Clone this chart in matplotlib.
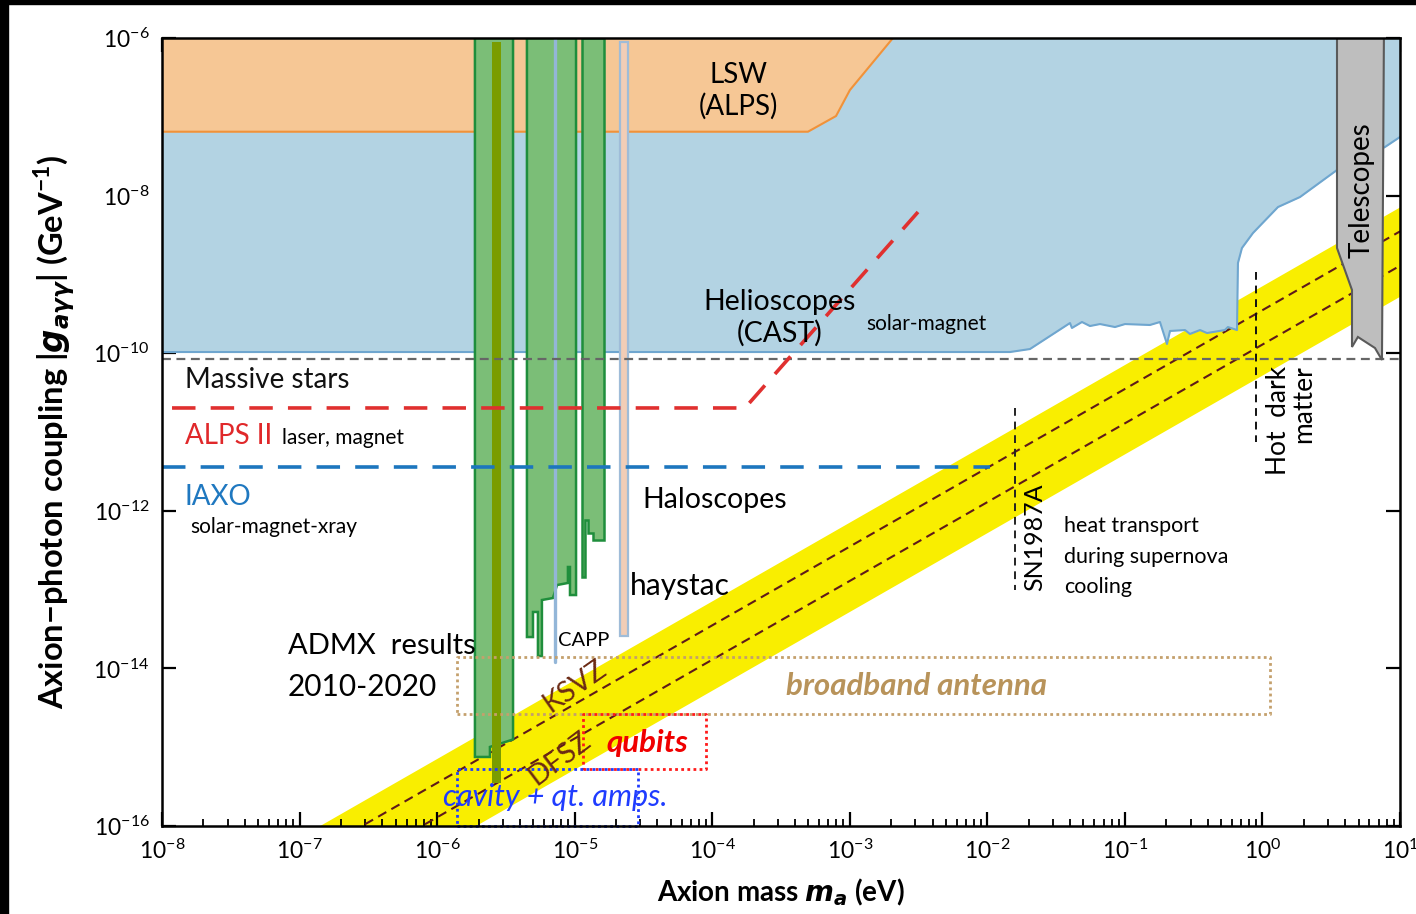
import numpy as np
import matplotlib.pyplot as plt
from matplotlib.patches import Rectangle
from matplotlib.ticker import LogLocator, NullLocator

plt.rcParams['font.family'] = ['Lato', 'DejaVu Sans']
plt.rcParams['mathtext.fontset'] = 'custom'
plt.rcParams['mathtext.rm'] = 'Lato:bold'
plt.rcParams['mathtext.it'] = 'DejaVu Sans:bold:italic'
plt.rcParams['mathtext.bf'] = 'Lato:bold'

# --- data (log10 of mass in eV, log10 of coupling in GeV^-1) ---
# helioscopes (CAST) excluded region, lower edge
helio_logm = [-8.0, -1.835, -1.690, -1.399, -1.385, -1.312, -1.254, -1.181, -1.072,
              -0.999, -0.818, -0.745, -0.694, -0.672, -0.563, -0.527, -0.454, -0.403,
              -0.273, -0.251, -0.185, -0.178, -0.149, -0.069, 0.113, 0.273, 0.542,
              0.891, 1.0]
helio_logg = [-9.985, -9.985, -9.947, -9.617, -9.680, -9.604, -9.655, -9.630, -9.668,
              -9.630, -9.642, -9.604, -9.883, -9.718, -9.706, -9.756, -9.706, -9.744,
              -9.706, -9.668, -9.706, -8.855, -8.665, -8.475, -8.145, -8.018, -7.675,
              -7.383, -7.256]

# light shining through wall (ALPS) lower edge
lsw_logm = [-8.0, -3.304, -3.100, -2.999, -2.686]
lsw_logg = [-7.189, -7.189, -6.990, -6.660, -6.0]

# telescopes outline
tele_logm = [0.542, 0.542, 0.651, 0.651, 0.694, 0.818, 0.869, 0.883]
tele_logg = [-6.0, -8.665, -9.198, -9.921, -9.794, -9.934, -10.086, -6.0]

# ADMX / haloscope exclusions
admx_a_logm = [-5.725, -5.725, -5.616, -5.616, -5.460, -5.448, -5.448]
admx_a_logg = [-6.0, -15.124, -15.124, -14.997, -14.909, -14.900, -6.0]
admx_b_logm = [-5.347, -5.347, -5.303, -5.303, -5.267, -5.267, -5.238, -5.238, -5.158,
               -5.128, -5.049, -5.049, -5.034, -5.034, -4.990, -4.990]
admx_b_logg = [-6.0, -13.602, -13.602, -13.284, -13.284, -13.843, -13.843, -13.132,
               -13.107, -12.942, -12.916, -12.713, -12.713, -13.069, -13.069, -6.0]
admx_c_logm = [-4.947, -4.947, -4.925, -4.925, -4.903, -4.903, -4.867, -4.867, -4.787, -4.787]
admx_c_logg = [-6.0, -12.840, -12.840, -12.117, -12.117, -12.282, -12.282, -12.371, -12.371, -6.0]
admx_olive_logm = [-5.601, -5.601, -5.536, -5.536]
admx_olive_logg = [-6.05, -15.454, -15.454, -6.05]
haystac_logm = [-4.671, -4.671, -4.612, -4.612]
haystac_logg = [-6.05, -13.589, -13.589, -6.05]
capp_logm = [-5.143, -5.143]
capp_logg = [-6.0, -13.919]

# QCD axion band and model lines
band_logm = [-8.0, 1.0]
band_hi_logg = [-17.141, -8.141]
band_lo_logg = [-18.275, -9.275]
ksvz_logg = [-17.454, -8.454]
dfsz_logg = [-17.890, -8.890]

# projected sensitivities / limits
stars_logg = -10.074
alps2_logm = [-7.927, -3.762, -2.504]
alps2_logg = [-10.695, -10.695, -8.208]
iaxo_logm = [-8.0, -1.981]
iaxo_logg = [-11.444, -11.444]
sn_logm = -1.799
sn_logg = [-10.695, -13.005]
hdm_logm = -0.047
hdm_logg = [-8.970, -11.127]

# future search boxes: (m0, m1, g0, g1)
broadband_box = [-5.855, 0.055, -14.579, -13.855]
qubits_box = [-4.940, -4.045, -15.277, -14.579]
cavity_box = [-5.855, -4.540, -16.0, -15.277]

def p(v):
    return np.power(10.0, np.asarray(v, dtype=float))

fig = plt.figure(figsize=(14.16, 9.14), dpi=100)
ax = fig.add_axes([0.1144, 0.0963, 0.8743, 0.8621])
ax.set_xscale('log')
ax.set_yscale('log')
ax.set_xlim(1e-8, 1e1)
ax.set_ylim(1e-16, 1e-6)

# band
ax.fill_between(p(band_logm), p(band_lo_logg), p(band_hi_logg), color='#f9ee00', lw=0, zorder=1)
ax.plot(p(band_logm), p(ksvz_logg), color='#5e1a1a', lw=1.5, dashes=(4.5, 2.8), zorder=2)
ax.plot(p(band_logm), p(dfsz_logg), color='#5e1a1a', lw=1.5, dashes=(4.5, 2.8), zorder=2)

# helioscopes and LSW
ax.fill_between(p(helio_logm), p(helio_logg), 1e-6, color='#b3d3e3', lw=0, zorder=3)
ax.plot(p(helio_logm), p(helio_logg), color='#6fa6cf', lw=1.5, zorder=3)
ax.fill_between(p(lsw_logm), p(lsw_logg), 1e-6, color='#f6c795', lw=0, zorder=4)
ax.plot(p(lsw_logm), p(lsw_logg), color='#f0923a', lw=1.5, zorder=4)

# haloscopes
for xs, ys in [(admx_a_logm, admx_a_logg), (admx_b_logm, admx_b_logg), (admx_c_logm, admx_c_logg)]:
    ax.fill(p(xs), p(ys), facecolor='#7bbe77', edgecolor='#1f8e3c', lw=1.8, zorder=5)
ax.fill(p(admx_olive_logm), p(admx_olive_logg), facecolor='#7a9c00', edgecolor='none', zorder=6)
ax.fill(p(haystac_logm), p(haystac_logg), facecolor='#f2cdb6', edgecolor='#9fbcd8', lw=1.6, zorder=6)
ax.plot(p(capp_logm), p(capp_logg), color='#93b6d8', lw=2.4, solid_capstyle='round', zorder=6)

# limit lines
ax.axhline(10**stars_logg, color='#666666', lw=1.6, dashes=(4, 2.5), zorder=7)
ax.plot(p(alps2_logm), p(alps2_logg), color='#e0302f', lw=2.6, dashes=(6.5, 4.2), zorder=7)
ax.plot(p(iaxo_logm), p(iaxo_logg), color='#1c76be', lw=2.6, dashes=(6.5, 4.2), zorder=7)
ax.plot([10**sn_logm] * 2, p(sn_logg), color='#222222', lw=1.4, dashes=(4, 3), zorder=7)
ax.plot([10**hdm_logm] * 2, p(hdm_logg), color='#111111', lw=1.4, dashes=(4, 3), zorder=7)

# telescopes
ax.fill(p(tele_logm), p(tele_logg), facecolor='#bebebe', edgecolor='#5a5a5a', lw=1.5, zorder=8)

# boxes
for box, col in [(broadband_box, '#c4a06c'), (qubits_box, '#ff1a1a'), (cavity_box, '#1f3cff')]:
    m0, m1, g0, g1 = box
    ax.plot(p([m0, m1, m1, m0, m0]), p([g0, g0, g1, g1, g0]), color=col, lw=2.0,
            linestyle=(0, (1, 1.2)), zorder=9, clip_on=False)

# text labels
T = dict(zorder=10)
ax.text(10**-3.81, 10**-6.67, 'LSW\n(ALPS)', ha='center', va='center', fontsize=20, linespacing=1.25, **T)
ax.text(10**-3.507, 10**-9.553, 'Helioscopes\n(CAST)', ha='center', va='center', fontsize=20.5, linespacing=1.25, **T)
ax.text(10**-2.44, 10**-9.63, 'solar-magnet', ha='center', va='center', fontsize=15, **T)
ax.text(10**-7.833, 10**-10.34, 'Massive stars', ha='left', va='center', fontsize=20, color='#111111', **T)
ax.text(10**-7.833, 10**-11.05, 'ALPS II', ha='left', va='center', fontsize=20, color='#e0282a', **T)
ax.text(10**-7.128, 10**-11.08, 'laser, magnet', ha='left', va='center', fontsize=15, **T)
ax.text(10**-7.833, 10**-11.825, 'IAXO', ha='left', va='center', fontsize=20, color='#1f78c0', **T)
ax.text(10**-7.797, 10**-12.206, 'solar-magnet-xray', ha='left', va='center', fontsize=15, **T)
ax.text(10**-3.98, 10**-11.863, 'Haloscopes', ha='center', va='center', fontsize=20.5, **T)
ax.text(10**-4.234, 10**-12.954, 'haystac', ha='center', va='center', fontsize=21.5, **T)
ax.text(10**-4.932, 10**-13.64, 'CAPP', ha='center', va='center', fontsize=14.5, **T)
ax.text(10**-7.084, 10**-13.716, 'ADMX  results', ha='left', va='center', fontsize=21, **T)
ax.text(10**-7.084, 10**-14.236, '2010-2020', ha='left', va='center', fontsize=21.5, **T)
ax.text(10**-4.998, 10**-14.223, 'KSVZ', ha='center', va='center', fontsize=20.5, rotation=35,
        color='#6b2a14', **T)
ax.text(10**-5.107, 10**-15.137, 'DFSZ', ha='center', va='center', fontsize=20.5, rotation=37,
        color='#6b2a14', **T)
ax.text(10**-2.512, 10**-14.223, 'broadband antenna', ha='center', va='center', fontsize=22.5,
        fontweight='bold', fontstyle='italic', color='#b8935a', **T)
ax.text(10**-4.474, 10**-14.947, 'qubits', ha='center', va='center', fontsize=22.5,
        fontweight='bold', fontstyle='italic', color='#f00000', **T)
ax.text(10**-5.143, 10**-15.632, 'cavity + qt. amps.', ha='center', va='center', fontsize=22,
        fontstyle='italic', color='#1f3cff', **T)
ax.text(10**-1.654, 10**-12.333, 'SN1987A', ha='center', va='center', fontsize=18, rotation=90, **T)
for g, s in zip([-12.193, -12.586, -12.967], ['heat transport', 'during supernova', 'cooling']):
    ax.text(10**-1.443, 10**g, s, ha='left', va='center', fontsize=15.5, **T)
ax.text(10**0.207, 10**-10.848, 'Hot  dark\nmatter', ha='center', va='center', fontsize=19,
        rotation=90, multialignment='right', linespacing=1.0, **T)
ax.text(10**0.723, 10**-7.929, 'Telescopes', ha='center', va='center', fontsize=20, rotation=90, **T)

# axes styling
ax.xaxis.set_major_locator(LogLocator(base=10, numticks=20))
ax.xaxis.set_minor_locator(LogLocator(base=10, subs=np.arange(2, 10), numticks=20))
ax.set_yticks(p([-16, -14, -12, -10, -8, -6]))
ax.yaxis.set_minor_locator(NullLocator())
ax.tick_params(which='major', direction='in', top=True, right=True, length=10, width=1.6,
               labelsize=16.5, pad=9)
ax.tick_params(which='minor', direction='in', top=True, right=True, length=5, width=1.3)
for s in ax.spines.values():
    s.set_linewidth(1.8)
    s.set_zorder(11)

ax.set_xlabel(r'Axion mass $m_a$ (eV)', fontsize=20, fontweight='bold', labelpad=10)
ax.set_ylabel(r'Axion$-$photon coupling $|g_{a\gamma\gamma}|$ (GeV$^{-1}$)', fontsize=23.5,
              fontweight='bold', labelpad=12)

# black frame edges of the original screenshot
fig.add_artist(Rectangle((0, 1 - 4 / 914), 1, 4 / 914, transform=fig.transFigure, color='black'))
fig.add_artist(Rectangle((0, 0), 8 / 1416, 1, transform=fig.transFigure, color='black'))

fig.savefig('out.png', dpi=100)
